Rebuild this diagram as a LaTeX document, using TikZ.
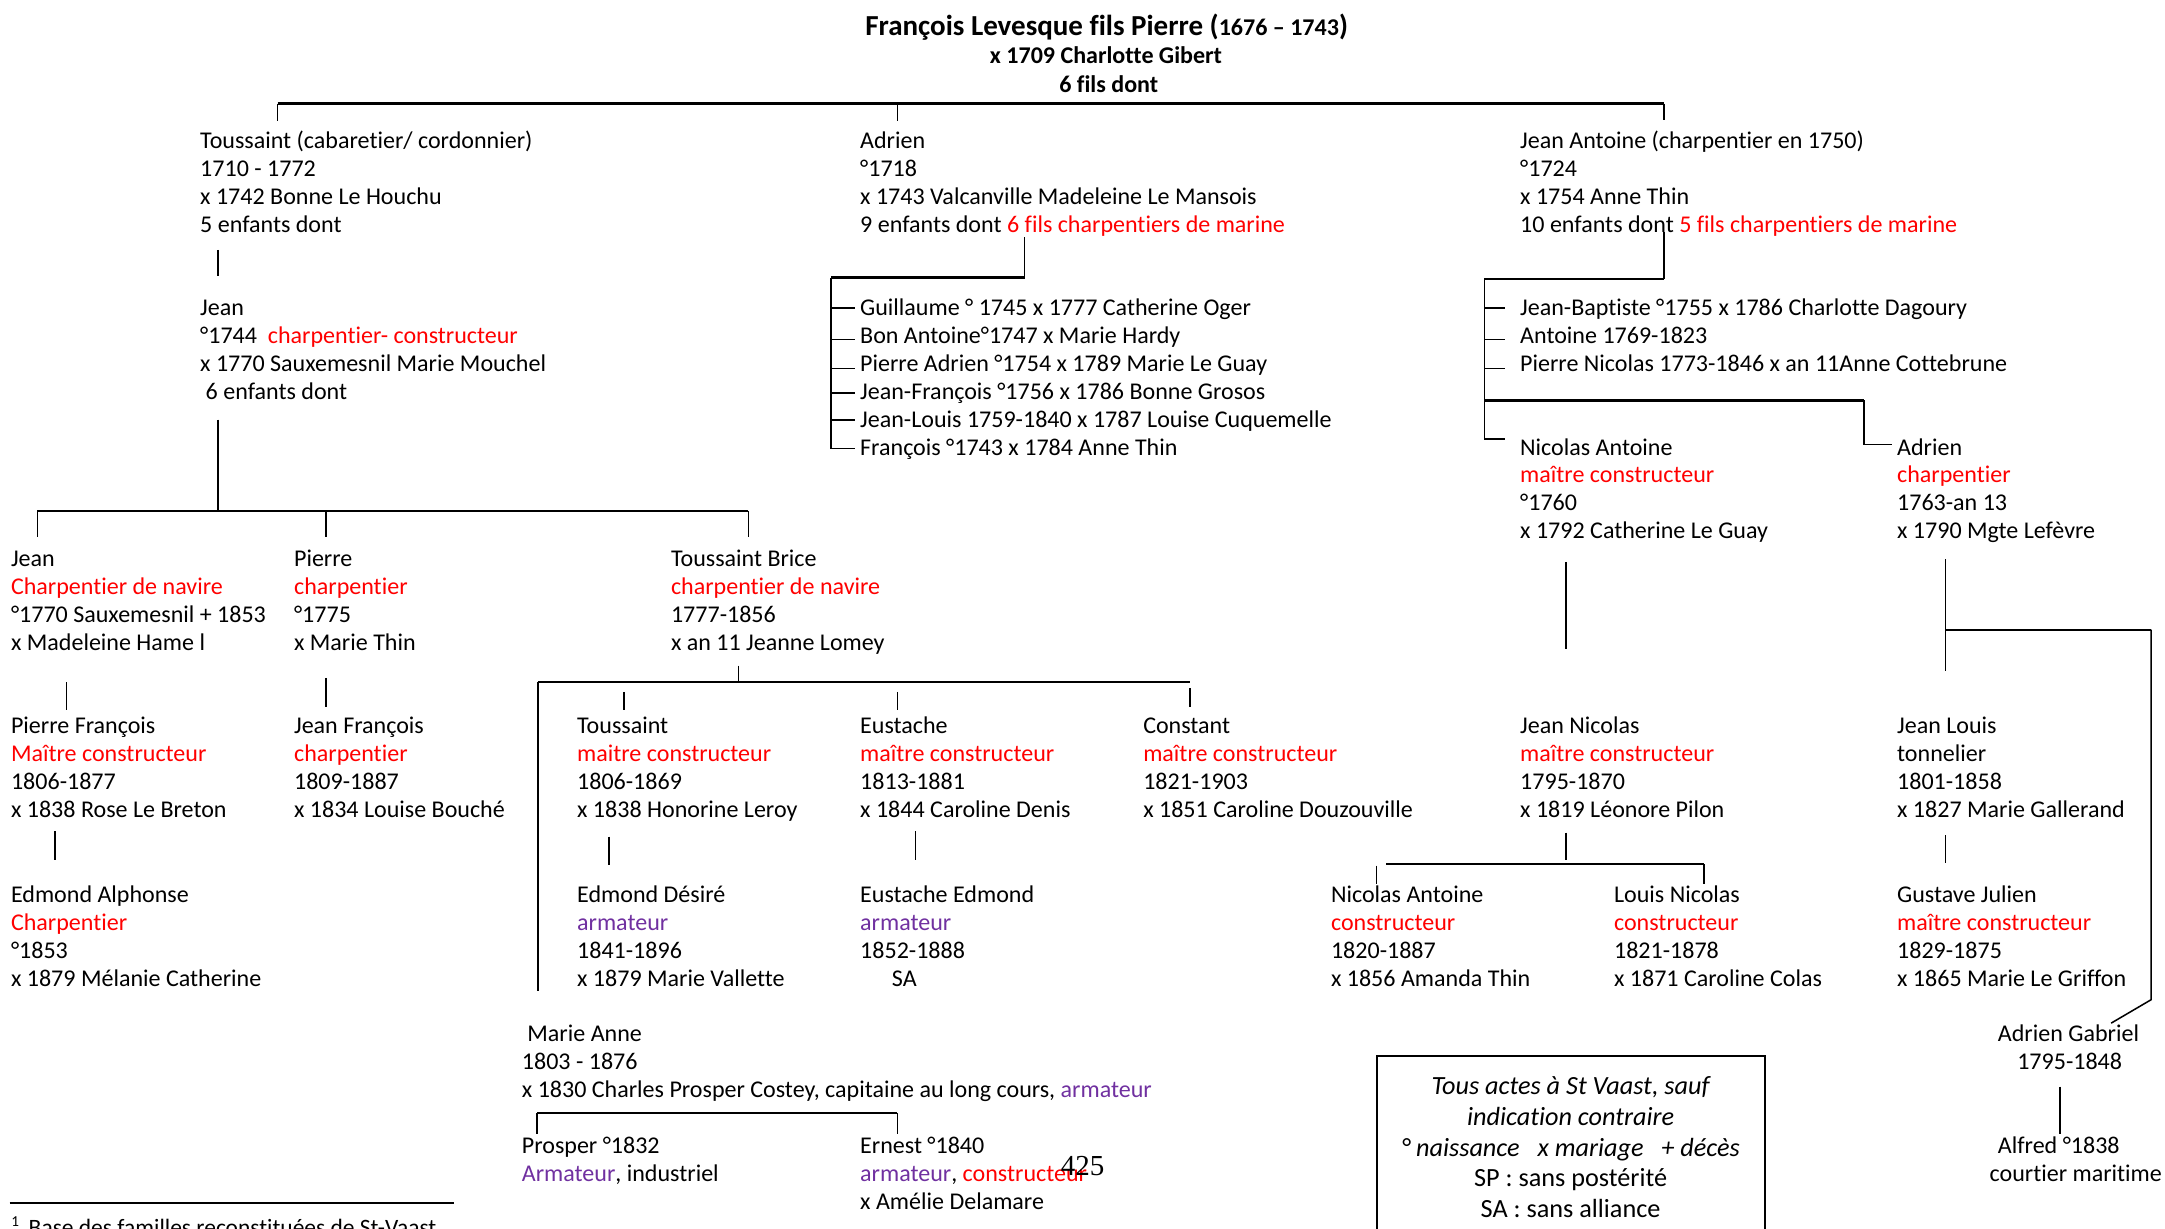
\documentclass[tikz,border=0pt]{standalone}
\usepackage{fontspec}
\setmainfont{Carlito}[Ligatures=NoCommon]
\newfontfamily\pnfont{Liberation Serif}
\usepackage{xcolor}
\definecolor{redc}{RGB}{255,0,0}
\definecolor{armc}{RGB}{112,48,160}
\begin{document}
\begin{tikzpicture}[x=1pt,y=-1pt,
  txt/.style={inner sep=0pt, outer sep=0pt, font=\fontsize{17.4}{20.2}\selectfont, align=left, anchor=north west},
  ttl/.style={inner sep=0pt, outer sep=0pt, anchor=base, font=\bfseries\fontsize{17.4}{20.2}\selectfont},
  ln/.style={line width=1.1pt},
  hl/.style={line width=1.6pt}]
\useasboundingbox (0,0) rectangle (1568,890);

% title
\node[ttl] (t1) at (801.5,25.5) {{\fontsize{21}{24}\selectfont François Levesque fils Pierre (}1676 – 1743{\fontsize{21}{24}\selectfont )}};
\node[ttl] (t2) at (801,46) {x 1709 Charlotte Gibert};
\node[ttl] (t3) at (803,67) {6 fils dont};

% generation 2
\node[txt] (T1) at (145,93.4) {\strut Toussaint (cabaretier/ cordonnier)\\1710 - 1772\\x 1742 Bonne Le Houchu\\5 enfants dont};
\node[txt] (A1) at (623,93.4) {\strut Adrien\\°1718\\x 1743 Valcanville Madeleine Le Mansois\\9 enfants dont \textcolor{redc}{6 fils charpentiers de marine}};
\node[txt] (JA) at (1101,93.4) {\strut Jean Antoine (charpentier en 1750)\\°1724\\x 1754 Anne Thin\\10 enfants dont \textcolor{redc}{5 fils charpentiers de marine}};

\node[txt] (J1) at (145,214.4) {\strut Jean\\°1744\ \ \textcolor{redc}{charpentier- constructeur}\\x 1770 Sauxemesnil Marie Mouchel\\\hspace*{4pt}6 enfants dont};
\node[txt] (AL) at (623,214.4) {\strut Guillaume ° 1745 x 1777 Catherine Oger\\Bon Antoine°1747 x Marie Hardy\\Pierre Adrien °1754 x 1789 Marie Le Guay\\Jean-François °1756 x 1786 Bonne Grosos\\Jean-Louis 1759-1840 x 1787 Louise Cuquemelle\\François °1743 x 1784 Anne Thin};
\node[txt] (JAL) at (1101,214.4) {\strut Jean-Baptiste °1755 x 1786 Charlotte Dagoury\\Antoine 1769-1823\\Pierre Nicolas 1773-1846 x an 11Anne Cottebrune};
\node[txt] (NA) at (1101,315.4) {\strut Nicolas Antoine\\\textcolor{redc}{maître constructeur}\\°1760\\x 1792 Catherine Le Guay};
\node[txt] (AD) at (1374,315.4) {\strut Adrien\\\textcolor{redc}{charpentier}\\1763-an 13\\x 1790 Mgte Lefèvre};

% generation 3
\node[txt] (G3J) at (8,396.4) {\strut Jean\\\textcolor{redc}{Charpentier de navire}\\°1770 Sauxemesnil + 1853\\x Madeleine Hame l};
\node[txt] (G3P) at (213,396.4) {\strut Pierre\\\textcolor{redc}{charpentier}\\°1775\\x Marie Thin};
\node[txt] (TB) at (486,396.4) {\strut Toussaint Brice\\\textcolor{redc}{charpentier de navire}\\1777-1856\\x an 11 Jeanne Lomey};

% generation 4
\node[txt] (PF) at (8,517.4) {\strut Pierre François\\\textcolor{redc}{Maître constructeur}\\1806-1877\\x 1838 Rose Le Breton};
\node[txt] (JF) at (213,517.4) {\strut Jean François\\\textcolor{redc}{charpentier}\\1809-1887\\x 1834 Louise Bouché};
\node[txt] (TO) at (418,517.4) {\strut Toussaint\\\textcolor{redc}{maitre constructeur}\\1806-1869\\x 1838 Honorine Leroy};
\node[txt] (EU) at (623,517.4) {\strut Eustache\\\textcolor{redc}{maître constructeur}\\1813-1881\\x 1844 Caroline Denis};
\node[txt] (CO) at (828,517.4) {\strut Constant\\\textcolor{redc}{maître constructeur}\\1821-1903\\x 1851 Caroline Douzouville};
\node[txt] (JN) at (1101,517.4) {\strut Jean Nicolas\\\textcolor{redc}{maître constructeur}\\1795-1870\\x 1819 Léonore Pilon};
\node[txt] (JL) at (1374,517.4) {\strut Jean Louis\\tonnelier\\1801-1858\\x 1827 Marie Gallerand};

% generation 5
\node[txt] (EA) at (8,639.4) {\strut Edmond Alphonse\\\textcolor{redc}{Charpentier}\\°1853\\x 1879 Mélanie Catherine};
\node[txt] (ED) at (418,639.4) {\strut Edmond Désiré\\\textcolor{armc}{armateur}\\1841-1896\\x 1879 Marie Vallette};
\node[txt] (EE) at (623,639.4) {\strut Eustache Edmond\\\textcolor{armc}{armateur}\\1852-1888\\\hspace*{23pt}SA};
\node[txt] (NA2) at (964,639.4) {\strut Nicolas Antoine\\\textcolor{redc}{constructeur}\\1820-1887\\x 1856 Amanda Thin};
\node[txt] (LN) at (1169,639.4) {\strut Louis Nicolas\\\textcolor{redc}{constructeur}\\1821-1878\\x 1871 Caroline Colas};
\node[txt] (GJ) at (1374,639.4) {\strut Gustave Julien\\\textcolor{redc}{maître constructeur}\\1829-1875\\x 1865 Marie Le Griffon};

% bottom
\node[txt] (MA) at (378,740.4) {\strut\hspace*{4pt}Marie Anne\\1803 - 1876\\x 1830 Charles Prosper Costey, capitaine au long cours, \textcolor{armc}{armateur}};
\node[txt] (PR) at (378,821.4) {\strut Prosper °1832\\\textcolor{armc}{Armateur}, industriel};
\node[txt] (ER) at (623,821.4) {\strut Ernest °1840\\\textcolor{armc}{armateur}, \textcolor{redc}{constructeur}\\x Amélie Delamare};
\node[txt] (AG) at (1447,740.4) {\strut Adrien Gabriel\\\hspace*{14pt}1795-1848};
\node[txt] (AF) at (1441,821.4) {\strut\hspace*{6pt}Alfred °1838\\courtier maritime};

% legend
\draw[line width=1.4pt] (997,765) rectangle (1278,905);
\node[inner sep=0pt, anchor=north, align=center, font=\fontsize{19}{22.3}\selectfont] (LG) at (1137.5,776.9)
 {\strut\itshape Tous actes à St Vaast, sauf\\\itshape indication contraire\\\itshape ° naissance\ \ \ x mariage\ \ \ + décès\\SP : sans postérité\\SA : sans alliance};

% page number and footnote
\node[inner sep=0pt, anchor=base, font=\pnfont\fontsize{21}{24}\selectfont] (PN) at (784,851) {425};
\coordinate (fnA) at (7,871.5); \coordinate (fnB) at (329,871.5);
\draw[line width=1.5pt] (fnA) -- (fnB);
\node[inner sep=0pt, anchor=base west, font=\fontsize{17}{20}\selectfont] (FN) at (8,894.6)
 {\raisebox{6pt}{\fontsize{11}{12}\selectfont 1}\raisebox{3pt}{\fontsize{8}{8}\selectfont ..}\hspace{3pt}Base des familles reconstituées de St-Vaast};

% ---- connectors ----
% top bracket
\coordinate (r0) at (201,75); \coordinate (r1) at (650,75); \coordinate (r2) at (1205,75);
\coordinate (r0b) at (201,88); \coordinate (r1b) at (650,88); \coordinate (r2b) at (1205,87);
\draw[hl] (r0) -- (r2);
\draw[ln] (r0) -- (r0b); \draw[ln] (r1) -- (r1b); \draw[ln] (r2) -- (r2b);

% Toussaint -> Jean
\coordinate (c1a) at (158,181); \coordinate (c1b) at (158,200);
\draw[ln] (c1a) -- (c1b);
% Jean -> gen3
\coordinate (c2a) at (158,304); \coordinate (c2b) at (158,370);
\coordinate (h3a) at (27,370); \coordinate (h3b) at (236,370); \coordinate (h3c) at (542,370);
\coordinate (h3ad) at (27,389); \coordinate (h3bd) at (236,389); \coordinate (h3cd) at (542,389);
\draw[ln] (c2a) -- (c2b);
\draw[hl] (h3a) -- (h3c);
\draw[ln] (h3a) -- (h3ad); \draw[ln] (h3b) -- (h3bd); \draw[ln] (h3c) -- (h3cd);

% gen3 -> gen4
\coordinate (p1a) at (48,494); \coordinate (p1b) at (48,514);
\coordinate (p2a) at (236,491); \coordinate (p2b) at (236,512);
\draw[ln] (p1a) -- (p1b); \draw[ln] (p2a) -- (p2b);
\coordinate (tba) at (535,482); \coordinate (tbb) at (535,494);
\coordinate (tbl) at (389.6,494); \coordinate (tbr) at (862,494); \coordinate (tbld) at (389.6,718);
\draw[ln] (tba) -- (tbb);
\draw[hl] (tbl) -- (tbr);
\draw[ln] (tbl) -- (tbld);
\coordinate (k1a) at (452,501); \coordinate (k1b) at (452,514);
\coordinate (k2a) at (650,501); \coordinate (k2b) at (650,514);
\coordinate (k3a) at (862,498.5); \coordinate (k3b) at (862,512);
\draw[ln] (k1a) -- (k1b); \draw[ln] (k2a) -- (k2b); \draw[ln] (k3a) -- (k3b);

% gen4 -> gen5
\coordinate (q1a) at (40,602); \coordinate (q1b) at (40,623);
\coordinate (q2a) at (441,606); \coordinate (q2b) at (441,626.5);
\coordinate (q3a) at (663,602); \coordinate (q3b) at (663,623);
\draw[ln] (q1a) -- (q1b); \draw[ln] (q2a) -- (q2b); \draw[ln] (q3a) -- (q3b);

% Marie Anne children
\coordinate (m1) at (389,806); \coordinate (m2) at (650,806);
\coordinate (m1d) at (389,821); \coordinate (m2d) at (650,821);
\draw[hl] (m1) -- (m2);
\draw[ln] (m1) -- (m1d); \draw[ln] (m2) -- (m2d);

% Adrien list
\coordinate (al0) at (742,172); \coordinate (al1) at (742,201); \coordinate (al2) at (602,201);
\coordinate (al3) at (602,324.7); \coordinate (al4) at (619,324.7);
\draw[ln] (al0) -- (al1);
\draw[hl] (al1) -- (al2);
\draw[ln] (al2) -- (al3) -- (al4);
\foreach \yy/\nm in {223/a,246/b,267/c,284.5/d,304/e}{
  \coordinate (alt\nm) at (602,\yy); \coordinate (alu\nm) at (619,\yy);
  \draw[ln] (alt\nm) -- (alu\nm);}

% Jean Antoine list
\coordinate (ja0) at (1205,168); \coordinate (ja1) at (1205,202); \coordinate (ja2) at (1075,202);
\coordinate (ja3) at (1075,318); \coordinate (ja4) at (1090,318);
\draw[ln] (ja0) -- (ja1);
\draw[hl] (ja1) -- (ja2);
\draw[ln] (ja2) -- (ja3) -- (ja4);
\foreach \yy/\nm in {223/a,246/b,267/c}{
  \coordinate (jat\nm) at (1075,\yy); \coordinate (jau\nm) at (1090,\yy);
  \draw[ln] (jat\nm) -- (jau\nm);}
\coordinate (jh0) at (1075,290); \coordinate (jh1) at (1350,290);
\coordinate (jh2) at (1350,322); \coordinate (jh3) at (1370,322);
\draw[hl] (jh0) -- (jh1);
\draw[ln] (jh1) -- (jh2) -- (jh3);

% Nicolas Antoine -> Jean Nicolas
\coordinate (na0) at (1134,407); \coordinate (na1) at (1134,470);
\draw[ln] (na0) -- (na1);
% Adrien -> Jean Louis & Adrien Gabriel
\coordinate (ad0) at (1409,405); \coordinate (ad1) at (1409,486);
\coordinate (ad2) at (1409,456); \coordinate (ad3) at (1558,456);
\coordinate (ad4) at (1558,724); \coordinate (ad5) at (1529,741);
\draw[ln] (ad0) -- (ad1);
\draw[hl] (ad2) -- (ad3);
\draw[ln] (ad3) -- (ad4) -- (ad5);

% Jean Nicolas -> children
\coordinate (jn0) at (1134,603); \coordinate (jn1) at (1134,623);
\coordinate (jn2) at (1004,626); \coordinate (jn3) at (1234,626); \coordinate (jn4) at (1234,640);
\coordinate (jn5) at (997,627); \coordinate (jn6) at (997,640);
\draw[ln] (jn0) -- (jn1);
\draw[hl] (jn2) -- (jn3);
\draw[ln] (jn3) -- (jn4);
\draw[ln] (jn5) -- (jn6);

% Jean Louis -> Gustave
\coordinate (jl0) at (1409,605); \coordinate (jl1) at (1409,625);
\draw[ln] (jl0) -- (jl1);
% Adrien Gabriel -> Alfred
\coordinate (ag0) at (1492,787); \coordinate (ag1) at (1492,821);
\draw[ln] (ag0) -- (ag1);
\end{tikzpicture}
\end{document}
